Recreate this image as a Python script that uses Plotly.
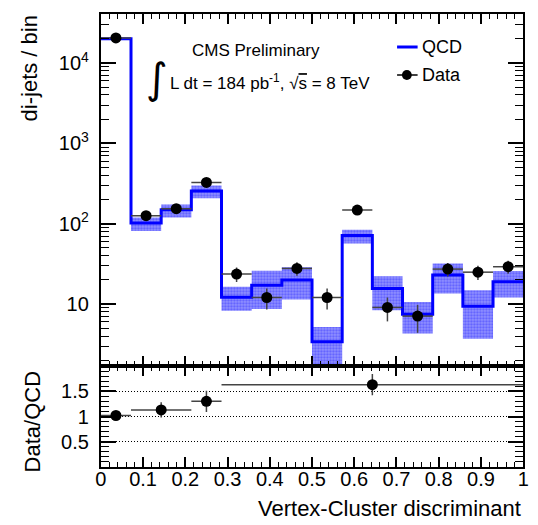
import plotly.graph_objects as go
import numpy as np

# ---- data ----
bin_edges = [0, 1/14, 2/14, 3/14, 4/14, 5/14, 6/14, 7/14, 8/14, 9/14, 10/14, 11/14, 12/14, 13/14, 1.0]
qcd = [20000, 102, 149, 255, 12.2, 17.2, 19.9, 3.4, 71.5, 15.7, 7.5, 23, 9.4, 19]
qcd_hi = [20400, 120, 174, 300, 16.4, 26, 28.7, 5.2, 84, 22.3, 10.6, 32, 14.9, 25.8]
qcd_lo = [19600, 81, 120, 207, 8.3, 8.7, 11.4, 1.0, 57, 8.4, 4.3, 13.6, 3.7, 12.1]
data = [20500, 126, 154, 327, 23.7, 12.1, 27.8, 12.1, 148, 9.1, 7.1, 27.3, 25, 29.2]
data_err = [143, 11, 12, 18, 4.9, 3.5, 5.3, 3.5, 12, 3.0, 2.7, 5.2, 5.0, 5.4]

ratio_lo = [0.0, 1/14, 3/14, 4/14]
ratio_hi = [1/14, 3/14, 4/14, 1.0]
ratio = [1.02, 1.13, 1.30, 1.63]
ratio_err = [0.02, 0.15, 0.21, 0.21]

W, H = 538, 525
def px(x): return x / W
def py(y): return 1 - y / H

edges = np.array(bin_edges)
centers = 0.5 * (edges[:-1] + edges[1:])
halfw = 0.5 * (edges[1:] - edges[:-1])

fig = go.Figure()

# uncertainty band polygons
bx, by = [], []
for i in range(len(qcd)):
    x0, x1 = edges[i], edges[i + 1]
    bx += [x0, x1, x1, x0, x0, None]
    by += [qcd_lo[i], qcd_lo[i], qcd_hi[i], qcd_hi[i], qcd_lo[i], None]
fig.add_trace(go.Scatter(x=bx, y=by, mode='lines', fill='toself',
                         fillcolor='rgb(128,128,255)', line=dict(width=0),
                         fillpattern=dict(shape='.', fgcolor='rgb(50,50,255)', bgcolor='rgb(145,145,255)', size=3, solidity=0.45),
                         hoverinfo='skip', showlegend=False, xaxis='x', yaxis='y'))

# QCD step
fig.add_trace(go.Scatter(x=list(edges), y=list(qcd) + [qcd[-1]], mode='lines', line_shape='hv',
                         line=dict(color='#0000ff', width=3), showlegend=False, xaxis='x', yaxis='y'))

# data
fig.add_trace(go.Scatter(x=centers, y=data, mode='markers',
                         marker=dict(color='black', size=11),
                         error_x=dict(type='data', array=halfw, color='#444', thickness=1.5, width=0),
                         error_y=dict(type='data', array=data_err, color='#444', thickness=1.5, width=0),
                         showlegend=False, xaxis='x', yaxis='y'))

# ratio
rlo = np.array(ratio_lo); rhi = np.array(ratio_hi)
fig.add_trace(go.Scatter(x=0.5 * (rlo + rhi), y=ratio, mode='markers',
                         marker=dict(color='black', size=11),
                         error_x=dict(type='data', array=0.5 * (rhi - rlo), color='#444', thickness=1.5, width=0),
                         error_y=dict(type='data', array=ratio_err, color='#444', thickness=1.5, width=0),
                         showlegend=False, xaxis='x2', yaxis='y2'))

font = 'Liberation Sans, Arial, sans-serif'
xdom = [px(97), px(529)]
minor_log = [m * 10 ** e for e in range(0, 5) for m in range(2, 10)]

common_x = dict(range=[0, 1], domain=xdom, showline=True, linecolor='black', linewidth=2,
                mirror='allticks', ticks='inside', tickcolor='black', tickwidth=1.5, ticklen=10,
                tickvals=[round(0.1 * i, 1) for i in range(11)],
                minor=dict(ticks='inside', ticklen=5, tickcolor='black', tickwidth=1, dtick=0.02, tick0=0),
                showgrid=False, zeroline=False, fixedrange=True)

fig.update_layout(
    width=W, height=H, margin=dict(l=0, r=0, t=0, b=0),
    paper_bgcolor='white', plot_bgcolor='white', showlegend=False,
    font=dict(family=font, color='black', size=20),
    xaxis=dict(**common_x, anchor='y', showticklabels=False),
    yaxis=dict(type='log', range=[np.log10(1.7), np.log10(40700)], domain=[py(366), py(14)],
               anchor='x', showline=True, linecolor='black', linewidth=2, mirror='allticks',
               ticks='inside', tickcolor='black', tickwidth=1.5, ticklen=15,
               tickvals=[10, 100, 1000, 10000],
               ticktext=['10', '10<sup>2</sup>', '10<sup>3</sup>', '10<sup>4</sup>'],
               minor=dict(ticks='inside', ticklen=8, tickcolor='black', tickwidth=1, tickvals=minor_log),
               showgrid=False, zeroline=False, tickfont=dict(size=20), ticklabelstandoff=6),
    xaxis2=dict(**common_x, anchor='y2', tickfont=dict(size=20), ticklabelstandoff=-7,
                ticktext=['0', '0.1', '0.2', '0.3', '0.4', '0.5', '0.6', '0.7', '0.8', '0.9', '1']),
    yaxis2=dict(range=[0, 2], domain=[py(467), py(366)], anchor='x2',
                showline=True, linecolor='black', linewidth=2, mirror='allticks',
                ticks='inside', tickcolor='black', tickwidth=1.5, ticklen=15,
                tickvals=[0.5, 1, 1.5], ticktext=['0.5', '1', '1.5'],
                minor=dict(ticks='inside', ticklen=8, tickcolor='black', tickwidth=1, dtick=0.1, tick0=0),
                showgrid=True, gridcolor='black', griddash='1px,2px', gridwidth=1,
                zeroline=False, tickfont=dict(size=20), ticklabelstandoff=6),
)

ann = []
ann.append(dict(text='di-jets / bin', x=px(25), y=py(68), textangle=-90, font=dict(size=22)))
ann.append(dict(text='Data/QCD', x=px(27), y=py(422), textangle=-90, font=dict(size=22)))
ann.append(dict(text='Vertex-Cluster discriminant', x=px(529), y=py(508), xanchor='right', font=dict(size=22)))
ann.append(dict(text='CMS Preliminary', x=px(256), y=py(50), font=dict(size=17)))
ann.append(dict(text='∫', x=px(154), y=py(79), font=dict(size=42, family='DejaVu Sans')))
ann.append(dict(text="L dt = 184 pb<sup>-1</sup>, √<span style='text-decoration:overline'>s</span> = 8 TeV",
                x=px(166), y=py(82), xanchor='left', font=dict(size=17)))
ann.append(dict(text='QCD', x=px(423), y=py(47), xanchor='left', font=dict(size=18)))
ann.append(dict(text='Data', x=px(423), y=py(75), xanchor='left', font=dict(size=18)))
for a in ann:
    a.update(xref='paper', yref='paper', showarrow=False, yanchor=a.get('yanchor', 'middle'))
    a.setdefault('xanchor', 'center')
fig.update_layout(annotations=ann)

fig.update_layout(shapes=[
    dict(type='line', xref='paper', yref='paper', x0=px(400), x1=px(421), y0=py(47), y1=py(47),
         line=dict(color='#0000ff', width=3)),
    dict(type='line', xref='paper', yref='paper', x0=px(400), x1=px(421), y0=py(75), y1=py(75),
         line=dict(color='black', width=1.5)),
    dict(type='circle', xref='paper', yref='paper', x0=px(405), x1=px(415), y0=py(80), y1=py(70),
         fillcolor='black', line=dict(color='black', width=0)),
])

fig.write_html('out.html')
